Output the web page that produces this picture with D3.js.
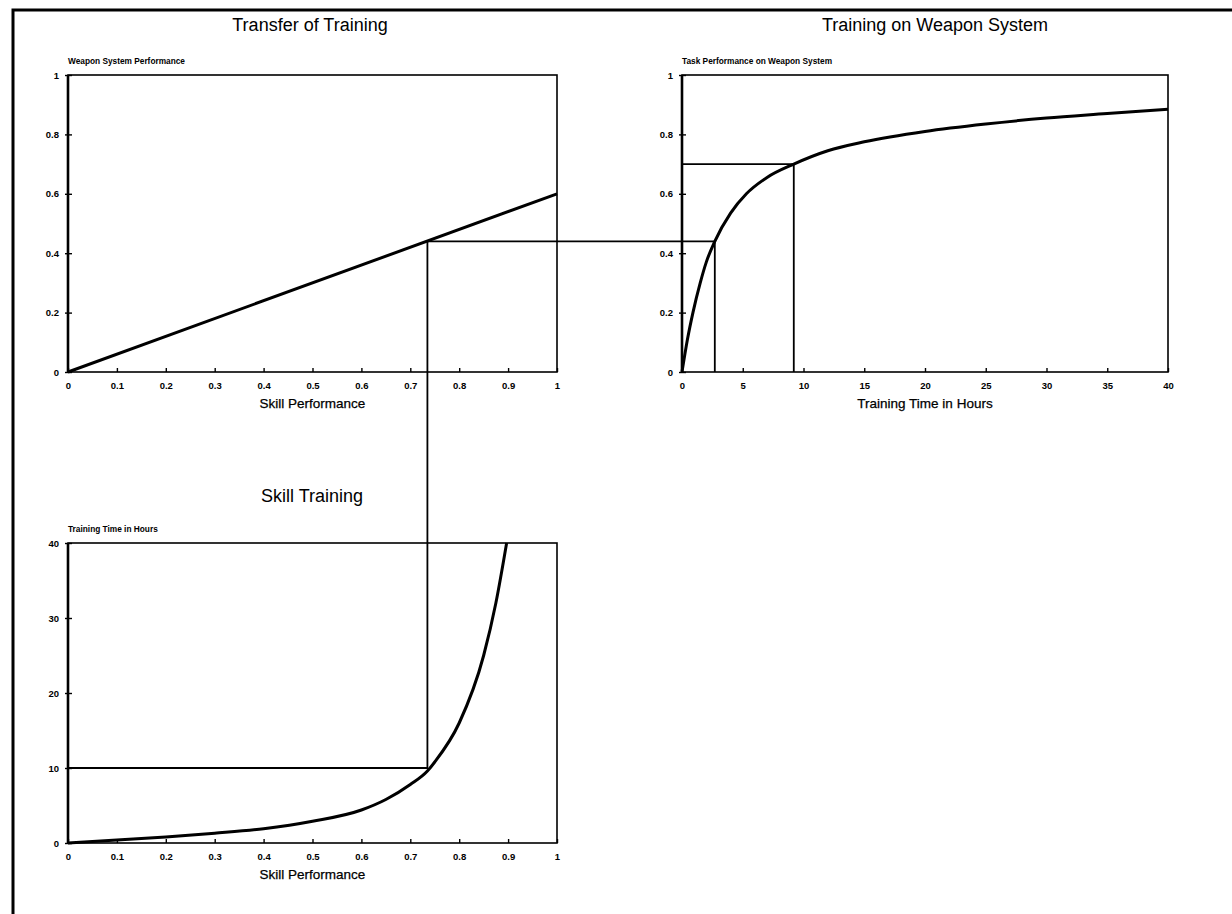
<!DOCTYPE html>
<html>
<head>
<meta charset="utf-8">
<script src="https://cdn.jsdelivr.net/npm/d3@7/dist/d3.min.js"></script>
<style>
  body { margin: 0; background: #fff; }
  svg { display: block; font-family: "Liberation Sans", Arial, sans-serif; }
  .tick text { font-weight: bold; font-size: 9.5px; fill: #000; }
  .domain { display: none; }
</style>
</head>
<body>
<svg id="chart" width="1232" height="914"></svg>
<script>
// --- data ---
// Transfer of Training: weapon system performance vs skill performance
const transferSkill = [0, 1];
const transferPerf = [0, 0.6];

// Training on weapon system: task performance vs hours
const weaponHours = [0, 0.45, 0.9, 1.5, 2, 2.7, 4, 5.3, 7, 9.2, 12, 15, 20, 25, 30, 35, 40];
const weaponPerf = [0, 0.11, 0.2, 0.3, 0.37, 0.44, 0.535, 0.6, 0.655, 0.7, 0.745, 0.775, 0.81, 0.835, 0.855, 0.87, 0.885];

// Skill training: hours vs skill performance
const skillPerf = [0, 0.1, 0.2, 0.3, 0.4, 0.5, 0.6, 0.65, 0.7, 0.735, 0.75, 0.8, 0.85, 0.875, 0.897];
const skillHours = [0, 0.4, 0.8, 1.3, 1.9, 2.9, 4.4, 5.8, 7.8, 9.6, 10.8, 16, 25, 32, 40];

// guide lines
const skillPoint = 0.735;     // chosen skill level
const transferValue = 0.44;   // resulting weapon performance
const equivHours = 2.7;       // hours on weapon system for same performance
const skillHoursAt = 10;      // hours of skill training
const weaponTarget = 0.7;     // second reference performance
const weaponTargetHours = 9.2;

const tickProb = [0, 0.1, 0.2, 0.3, 0.4, 0.5, 0.6, 0.7, 0.8, 0.9, 1];
const tickPerfY = [0, 0.2, 0.4, 0.6, 0.8, 1];
const tickHours = [0, 5, 10, 15, 20, 25, 30, 35, 40];
const tickHoursY = [0, 10, 20, 30, 40];

const svg = d3.select("#chart");

// outer frame (top and left edges only are visible)
svg.append("path")
  .attr("d", "M13,914 L13,10 L1232,10")
  .attr("fill", "none").attr("stroke", "#000").attr("stroke-width", 3);

const fmt = d => (d === 0 || d === 1 || d >= 5) ? String(d) : d3.format(".1f")(d);

function panel(o) {
  const g = svg.append("g");
  const x = d3.scaleLinear().domain(o.xDomain).range([o.left, o.right]);
  const y = d3.scaleLinear().domain(o.yDomain).range([o.bottom, o.top]);

  // frame
  g.append("rect")
    .attr("x", o.left).attr("y", o.top)
    .attr("width", o.right - o.left).attr("height", o.bottom - o.top)
    .attr("fill", "none").attr("stroke", "#000").attr("stroke-width", 1.6);
  g.append("line")
    .attr("x1", o.left).attr("x2", o.left).attr("y1", o.top).attr("y2", o.bottom)
    .attr("stroke", "#000").attr("stroke-width", 2.6);

  const xa = g.append("g").attr("transform", `translate(0,${o.bottom})`)
    .call(d3.axisBottom(x).tickValues(o.xTicks).tickSizeInner(-4).tickSizeOuter(0).tickPadding(10).tickFormat(fmt));
  xa.selectAll(".tick line").attr("stroke", "#000").attr("stroke-width", 1.4);
  xa.selectAll(".tick text").attr("dy", "0.72em");

  const ya = g.append("g").attr("transform", `translate(${o.left},0)`)
    .call(d3.axisLeft(y).tickValues(o.yTicks).tickSizeInner(-4).tickSizeOuter(0).tickPadding(9).tickFormat(fmt));
  ya.selectAll(".tick line").attr("x1", -3).attr("x2", 4).attr("stroke", "#000").attr("stroke-width", 1.4);

  // titles
  svg.append("text").attr("x", o.titleX).attr("y", o.titleY)
    .attr("text-anchor", "middle").attr("font-size", 18).text(o.title);
  svg.append("text").attr("x", o.left).attr("y", o.top - 11)
    .attr("font-size", 8.3).attr("font-weight", "bold").text(o.yLabel);
  svg.append("text").attr("x", (o.left + o.right) / 2).attr("y", o.bottom + 36)
    .attr("text-anchor", "middle").attr("font-size", 13.5)
    .attr("stroke", "#000").attr("stroke-width", 0.25).text(o.xLabel);

  return { x, y, g };
}

const tl = panel({
  left: 68, right: 557, top: 75, bottom: 372,
  xDomain: [0, 1], yDomain: [0, 1], xTicks: tickProb, yTicks: tickPerfY,
  title: "Transfer of Training", titleX: 310, titleY: 31,
  yLabel: "Weapon System Performance", xLabel: "Skill Performance"
});
const tr = panel({
  left: 682, right: 1168, top: 75, bottom: 372,
  xDomain: [0, 40], yDomain: [0, 1], xTicks: tickHours, yTicks: tickPerfY,
  title: "Training on Weapon System", titleX: 935, titleY: 31,
  yLabel: "Task Performance on Weapon System", xLabel: "Training Time in Hours"
});
const bl = panel({
  left: 68, right: 557, top: 543, bottom: 843,
  xDomain: [0, 1], yDomain: [0, 40], xTicks: tickProb, yTicks: tickHoursY,
  title: "Skill Training", titleX: 312, titleY: 502,
  yLabel: "Training Time in Hours", xLabel: "Skill Performance"
});

const guide = { stroke: "#000", "stroke-width": 1.8, fill: "none" };
function guideLine(points) {
  const p = svg.append("path").attr("d", d3.line()(points));
  Object.entries(guide).forEach(([k, v]) => p.attr(k, v));
}

// guide lines linking the three panels
guideLine([[bl.x(0), bl.y(skillHoursAt)], [bl.x(skillPoint), bl.y(skillHoursAt)], [tl.x(skillPoint), tl.y(transferValue)],
           [tr.x(equivHours), tr.y(transferValue)], [tr.x(equivHours), tr.y(0)]]);
guideLine([[tr.x(0), tr.y(weaponTarget)], [tr.x(weaponTargetHours), tr.y(weaponTarget)], [tr.x(weaponTargetHours), tr.y(0)]]);

// curves
const curve = (g, xs, ys, sx, sy) => g.append("path")
  .datum(xs.map((v, i) => [v, ys[i]]))
  .attr("d", d3.line().x(d => sx(d[0])).y(d => sy(d[1])).curve(d3.curveMonotoneX))
  .attr("fill", "none").attr("stroke", "#000").attr("stroke-width", 3);

curve(tl.g, transferSkill, transferPerf, tl.x, tl.y);
curve(tr.g, weaponHours, weaponPerf, tr.x, tr.y);
curve(bl.g, skillPerf, skillHours, bl.x, bl.y);
</script>
</body>
</html>
